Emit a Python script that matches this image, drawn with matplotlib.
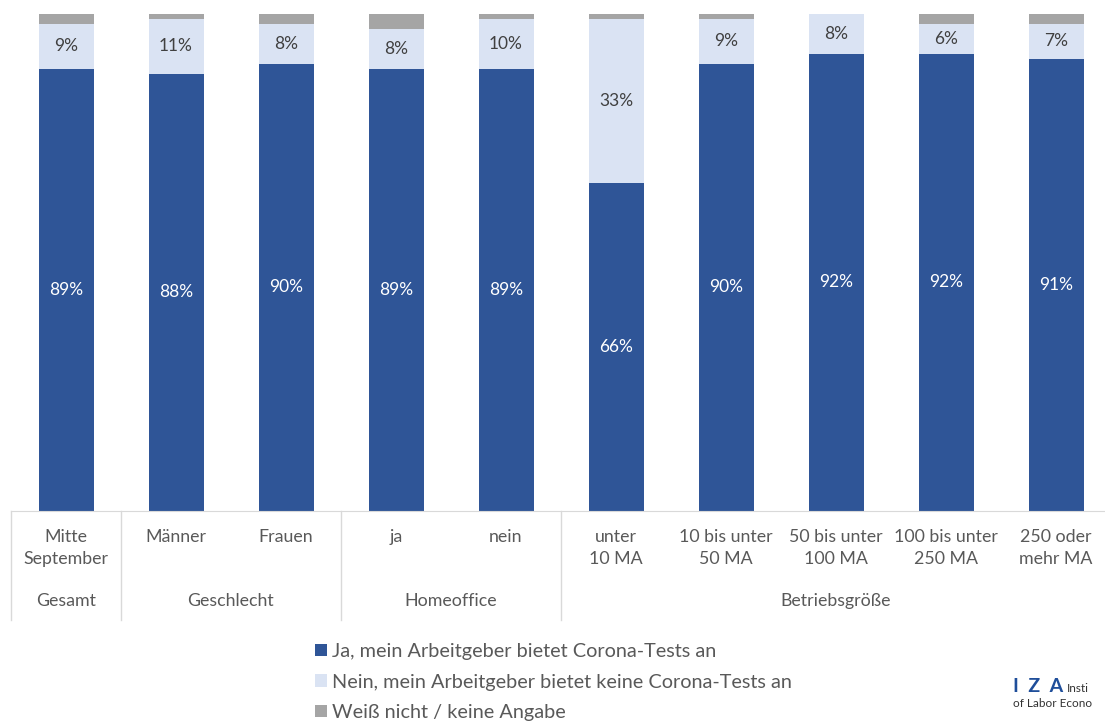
import matplotlib
matplotlib.use("Agg")
import matplotlib.pyplot as plt
from matplotlib.patches import Patch

plt.rcParams["font.family"] = ["Lato", "DejaVu Sans"]

# categories (bottom tick labels) and groups
categories = ["Mitte\nSeptember", "Männer", "Frauen", "ja", "nein", "unter\n10 MA",
              "10 bis unter\n50 MA", "50 bis unter\n100 MA", "100 bis unter\n250 MA", "250 oder\nmehr MA"]
groups = ["Gesamt", "Geschlecht", "Homeoffice", "Betriebsgröße"]
group_sizes = [1, 2, 2, 5]

# shares in percent
ja = [89, 88, 90, 89, 89, 66, 90, 92, 92, 91]
nein = [9, 11, 8, 8, 10, 33, 9, 8, 6, 7]
weiss_nicht = [2, 1, 2, 3, 1, 1, 1, 0.3, 2, 2]

series_names = ["Ja, mein Arbeitgeber bietet Corona-Tests an",
                "Nein, mein Arbeitgeber bietet keine Corona-Tests an",
                "Weiß nicht / keine Angabe"]
colors = ["#2F5597", "#DAE3F3", "#A5A5A5"]
txt = "#595959"

W, H = 1105, 722
fig = plt.figure(figsize=(W / 100, H / 100), dpi=100)
# plot area in pixels: x 11..1111, y 14..511
ax = fig.add_axes([11 / W, (H - 511) / H, 1100 / W, 497 / H])

x = list(range(len(categories)))
bottom2 = [a + b for a, b in zip(ja, nein)]
ax.bar(x, ja, width=0.5, color=colors[0])
ax.bar(x, nein, width=0.5, bottom=ja, color=colors[1])
ax.bar(x, weiss_nicht, width=0.5, bottom=bottom2, color=colors[2])

for i in x:
    ax.text(i, ja[i] / 2, f"{ja[i]}%", ha="center", va="center", color="white", fontsize=12.5)
    ax.text(i, ja[i] + nein[i] / 2, f"{nein[i]}%", ha="center", va="center", color="#404040", fontsize=12.5)

ax.set_xlim(-0.5, 9.5)
ax.set_ylim(0, 100)
ax.set_yticks([])
for s in ["top", "right", "left"]:
    ax.spines[s].set_visible(False)
ax.spines["bottom"].set_color("#D9D9D9")
ax.set_xticks(x)
ax.set_xticklabels(categories, fontsize=12.8, color=txt, linespacing=1.45)
ax.tick_params(axis="x", length=0, pad=13)

# group separators and group labels
trans = ax.get_xaxis_transform()
start = -0.5
ax.plot([start, start], [0, -0.219], transform=trans, color="#D9D9D9", lw=1, clip_on=False)
for g, n in zip(groups, group_sizes):
    end = start + n
    ax.plot([end, end], [0, -0.219], transform=trans, color="#D9D9D9", lw=1, clip_on=False)
    ax.text((start + end) / 2, -0.181, g, transform=trans, ha="center", va="center",
            fontsize=12.8, color=txt)
    start = end

handles = [Patch(facecolor=c, edgecolor="none") for c in colors]
fig.legend(handles, series_names, loc="upper left", bbox_to_anchor=(315 / W, 1 - 643 / H),
           frameon=False, fontsize=14.3, handlelength=0.6, handleheight=0.6,
           handletextpad=0.25, labelspacing=0.68, borderpad=0, borderaxespad=0,
           labelcolor=txt)

# IZA logo (cropped at the right edge)
fig.text(1013 / W, 1 - 692 / H, "I  Z  A", color="#1F4E9A", fontsize=14, fontweight="bold", va="baseline")
fig.text(1067 / W, 1 - 692 / H, "Insti", color="#333333", fontsize=8.5, va="baseline")
fig.text(1013 / W, 1 - 707 / H, "of Labor Econo", color="#333333", fontsize=8.5, va="baseline")

fig.savefig("out.png", dpi=100)
